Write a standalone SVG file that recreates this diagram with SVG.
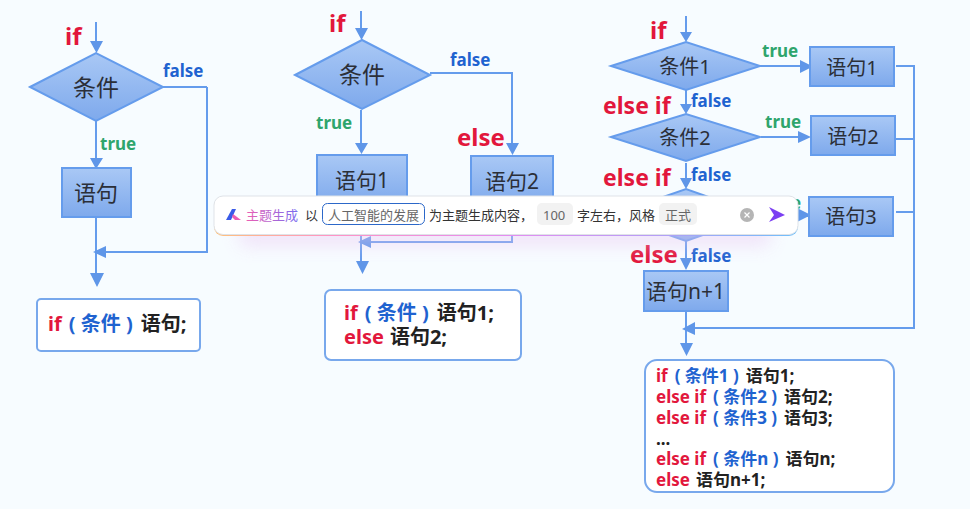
<svg xmlns="http://www.w3.org/2000/svg" width="970" height="509" viewBox="0 0 970 509">
<style>
text{font-family:"Noto Sans","Noto Sans CJK SC",sans-serif}
.c{fill:none;stroke:#659cec;stroke-width:2}
.a{fill:#5f96e8}
.s{fill:url(#g);stroke:#659cec;stroke-width:2}
.n{font-size:22px;fill:#2b2f38;text-anchor:middle}
.r{font-weight:700;fill:#e2173c;font-size:24px}
.t{font-weight:700;fill:#2ea56c;font-size:17px}
.f{font-weight:700;fill:#1f63d0;font-size:17px}
.b{fill:#fff;stroke:#78a8ec;stroke-width:2}
.k{font-weight:700;font-size:20px;fill:#222}
.k2{font-weight:700;font-size:17px;fill:#222}
.rd{fill:#e2173c}.bl{fill:#1f63d0}
.ui{font-size:13px;fill:#333}
.gr{font-size:13px;fill:#666}
</style>
<defs>
<linearGradient id="g" x1="0" y1="0" x2="0" y2="1"><stop offset="0" stop-color="#a9c8f5"/><stop offset="1" stop-color="#7ea9ec"/></linearGradient>
<linearGradient id="rb" x1="0" y1="0" x2="1" y2="0"><stop offset="0" stop-color="#ffc27a"/><stop offset=".2" stop-color="#ff93c4"/><stop offset=".5" stop-color="#e58cf0"/><stop offset=".75" stop-color="#b79cf5"/><stop offset="1" stop-color="#6fc0fb"/></linearGradient>
<linearGradient id="tg" x1="0" y1="0" x2="1" y2="0"><stop offset="0" stop-color="#ec5fb4"/><stop offset="1" stop-color="#7a6cf0"/></linearGradient>
<filter id="blur" x="-10%" y="-100%" width="120%" height="300%"><feGaussianBlur stdDeviation="9"/></filter>
</defs>
<rect width="970" height="509" fill="#f7fcff"/>
<g id="connectors">
<path class="c" d="M96 22V42M96 121V158M207 87H163M207 87V252H100M96 217V274"/>
<path class="a" d="M90 41H103L96.500 53ZM90 158H103L96 169ZM106 246V258L93 252ZM90 273H104L97 287Z"/>
<path class="c" d="M361 11V30M361 110V145M430 73H512V145M361 190V262M512 196V242H365"/>
<path class="a" d="M355 28H368L361.500 40ZM355 143H368L361.500 154ZM506 143H519L512.500 155ZM371 236V248L358 242ZM356 261H369L362.500 274Z"/>
<path class="c" d="M686 16V32M686 90V104M760 66H800M686 163V180M761 137H800M686 235V258M790 216H815M896 66H914V328H690M896 139H914M896 212H914M686 311V344"/>
<path class="a" d="M680 32H692L686 42ZM680 104H692L686 114ZM800 60V73L813 66.500ZM798 131V143L811 137ZM680 178H692L686 189ZM680 258H692L686 270ZM797 208V222L811 215ZM695 322V335L682 329ZM680 343H693L686.500 356Z"/>
</g>
<g id="n1"><path class="s" d="M30 87L96 53L163 87L96 121Z"/><text class="n" x="96" y="96" style="font-size:23px">条件</text></g>
<g id="n2"><rect class="s" x="62" y="168" width="69" height="49"/><text class="n" x="96" y="201">语句</text></g>
<g id="n3"><path class="s" d="M295 75L362 40L430 75L362 109Z"/><text class="n" x="362" y="83" style="font-size:23px">条件</text></g>
<g id="n4"><rect class="s" x="317" y="155" width="90" height="50"/><text class="n" x="362" y="188" style="font-size:21px">语句1</text></g>
<g id="n5"><rect class="s" x="471" y="156" width="82" height="50"/><text class="n" x="512" y="189" style="font-size:21px">语句2</text></g>
<g id="n6"><path class="s" d="M611 66L686 42L760 66L686 90Z"/><text class="n" x="685" y="74" style="font-size:20px">条件1</text></g>
<g id="n7"><path class="s" d="M611 137L686 114L760 137L686 161Z"/><text class="n" x="685" y="145" style="font-size:20px">条件2</text></g>
<g id="n8"><path class="s" d="M611 215L686 189L760 215L686 241Z"/></g>
<g id="n9"><rect class="s" x="810" y="47" width="84" height="39"/><text class="n" x="852" y="75" style="font-size:20px">语句1</text></g>
<g id="n10"><rect class="s" x="811" y="116" width="84" height="39"/><text class="n" x="853" y="144" style="font-size:20px">语句2</text></g>
<g id="n11"><rect class="s" x="809" y="197" width="84" height="39"/><text class="n" x="851" y="224" style="font-size:20px">语句3</text></g>
<g id="n12"><rect class="s" x="644" y="271" width="84" height="40"/><text class="n" x="685.500" y="299" style="font-size:21px">语句n+1</text></g>
<g id="labels">
<text class="r" x="65" y="45">if</text>
<text class="f" x="163" y="77">false</text>
<text class="t" x="100" y="150">true</text>
<text class="r" x="329" y="32">if</text>
<text class="f" x="450" y="66">false</text>
<text class="t" x="316" y="129">true</text>
<text class="r" x="457" y="146">else</text>
<text class="r" x="650" y="39">if</text>
<text class="t" x="762" y="57">true</text>
<text class="r" x="603" y="114" style="font-size:23px">else if</text>
<text class="f" x="691" y="107">false</text>
<text class="t" x="765" y="128">true</text>
<text class="r" x="603" y="186" style="font-size:23px">else if</text>
<text class="f" x="691" y="181">false</text>
<text class="r" x="630" y="263">else</text>
<text class="f" x="691" y="262">false</text>
<text class="t" x="765" y="209">true</text>
</g>
<g id="code1"><rect class="b" x="37" y="299" width="163" height="52" rx="4"/>
<text class="k" x="48" y="331"><tspan class="rd">if</tspan><tspan class="bl" dx="7">( 条件 )</tspan><tspan dx="8">语句;</tspan></text></g>
<g id="code2"><rect class="b" x="325" y="290" width="196" height="70" rx="6"/>
<text class="k" x="344" y="320"><tspan class="rd">if</tspan><tspan class="bl" dx="7">( 条件 )</tspan><tspan dx="8">语句1;</tspan></text>
<text class="k" x="344" y="344"><tspan class="rd">else</tspan><tspan dx="6">语句2;</tspan></text></g>
<g id="code3"><rect class="b" x="645" y="360" width="249" height="132" rx="12"/>
<text class="k2" x="656" y="382"><tspan class="rd">if</tspan><tspan class="bl" dx="7">( 条件1 )</tspan><tspan dx="7">语句1;</tspan></text>
<text class="k2" x="656" y="403"><tspan class="rd">else if</tspan><tspan class="bl" dx="7">( 条件2 )</tspan><tspan dx="7">语句2;</tspan></text>
<text class="k2" x="656" y="424"><tspan class="rd">else if</tspan><tspan class="bl" dx="7">( 条件3 )</tspan><tspan dx="7">语句3;</tspan></text>
<text class="k2" x="656" y="445">...</text>
<text class="k2" x="656" y="465"><tspan class="rd">else if</tspan><tspan class="bl" dx="7">( 条件n )</tspan><tspan dx="7">语句n;</tspan></text>
<text class="k2" x="656" y="486"><tspan class="rd">else</tspan><tspan dx="6">语句n+1;</tspan></text></g>
<g id="toolbar">
<rect x="240" y="222" width="530" height="24" fill="#e9c6f2" opacity=".45" filter="url(#blur)"/>
<rect x="214" y="197" width="584" height="39" rx="9" fill="url(#rb)"/>
<rect x="214" y="196" width="584" height="38.500" rx="9" fill="#fff" stroke="#dfe3e8" stroke-width="1"/>
<path d="M226 220L232 209H236L231 220Z" fill="#3a5be8"/><path d="M233 214L241 220H235L232 217Z" fill="#ec5fb4"/>
<text x="246" y="220" style="font-size:13px" fill="url(#tg)">主题生成</text>
<text class="ui" x="305" y="220">以</text>
<rect x="322.500" y="203.500" width="102" height="21" rx="5" fill="#fff" stroke="#2c68c9"/>
<text class="gr" x="328" y="220">人工智能的发展</text>
<text class="ui" x="429" y="220">为主题生成内容，</text>
<rect x="537" y="203" width="36" height="22" rx="5" fill="#f2f2f2"/>
<text class="gr" x="543" y="220">100</text>
<text class="ui" x="577" y="220">字左右，风格</text>
<rect x="659" y="203" width="38" height="22" rx="5" fill="#f2f2f2"/>
<text class="gr" x="665" y="220">正式</text>
<circle cx="747" cy="215" r="7" fill="#b5b5b5"/><path d="M744.500 212.500L749.500 217.500M749.500 212.500L744.500 217.500" stroke="#fff" stroke-width="1.200"/>
<path d="M769 207L785 215L769 222L774 215Z" fill="#7b3ff2"/>
</g>
</svg>
